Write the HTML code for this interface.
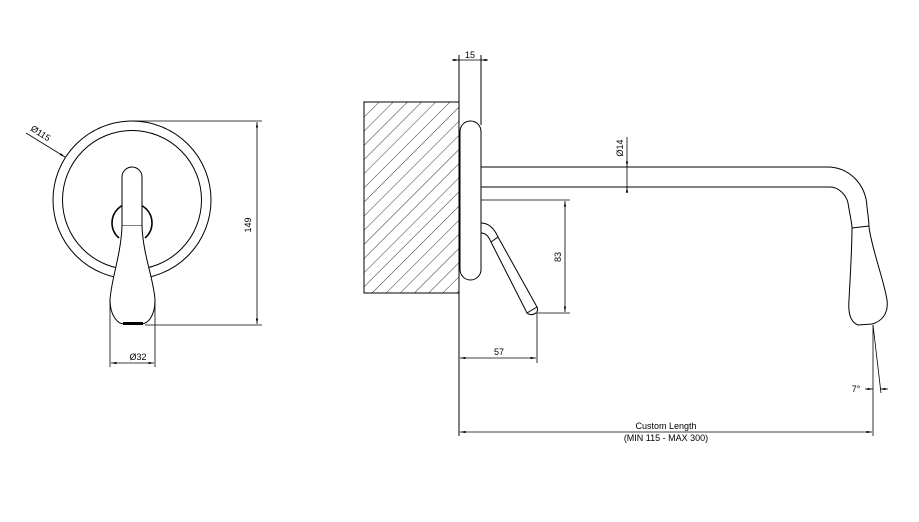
<!DOCTYPE html>
<html><head><meta charset="utf-8"><style>
html,body{margin:0;padding:0;background:#fff;}
svg{display:block}
text{font-family:"Liberation Sans",sans-serif;fill:#000}
</style></head><body>
<svg width="919" height="522" viewBox="0 0 919 522" xmlns="http://www.w3.org/2000/svg">
<defs>
<pattern id="h" patternUnits="userSpaceOnUse" width="10" height="10" patternTransform="rotate(45)">
<line x1="0" y1="0" x2="0" y2="10" stroke="#000" stroke-width="0.8"/>
</pattern>
<marker id="a" viewBox="0 0 10 10" refX="10" refY="5" markerWidth="7" markerHeight="7" orient="auto-start-reverse"><path d="M0,3 L10,5 L0,7 z" fill="#000"/></marker>
</defs>
<g fill="none" stroke="#000" stroke-width="1">
<circle cx="132" cy="200" r="79"/>
<circle cx="132" cy="200" r="69.5"/>
<path d="M112,223 A20,20 0 0 1 152,223 A20,20 0 0 1 145,238" fill="#fff" stroke-width="1.6"/>
<path d="M112,223 A20,20 0 0 0 119,238" stroke-width="1.6"/>
<path d="M122,226 L122,177 A10,10 0 0 1 142,177 L142,226" fill="#fff"/>
<line x1="122" y1="226" x2="142" y2="226"/>
<path d="M122,226 C121,255 111,280 110,300 C110,316 118,324 124,324 L141,324 C148,324 155,316 155,300 C154,280 143,255 142,226" fill="#fff"/>
<line x1="123" y1="323.5" x2="143" y2="323.5" stroke-width="3"/>
<line x1="132" y1="121" x2="262" y2="121" stroke-width="0.8"/>
<line x1="145" y1="325" x2="262" y2="325" stroke-width="0.8"/>
<line x1="257" y1="122" x2="257" y2="324" stroke-width="0.8" marker-start="url(#a)" marker-end="url(#a)"/>
<line x1="110" y1="300" x2="110" y2="367" stroke-width="0.8"/>
<line x1="155" y1="300" x2="155" y2="367" stroke-width="0.8"/>
<line x1="111" y1="363" x2="154" y2="363" stroke-width="0.8" marker-start="url(#a)" marker-end="url(#a)"/>
<line x1="26" y1="133" x2="65" y2="157" stroke-width="0.8" marker-end="url(#a)"/>

<rect x="364" y="102" width="95" height="191" fill="url(#h)"/>
<rect x="364" y="102" width="95" height="191"/>
<line x1="459" y1="55" x2="459" y2="436"/>
<line x1="481" y1="55" x2="481" y2="125"/>
<rect x="460" y="121" width="21" height="159" rx="10.5" fill="#fff"/>
<line x1="452" y1="60" x2="459" y2="60" stroke-width="0.8" marker-end="url(#a)"/>
<line x1="488" y1="60" x2="481" y2="60" stroke-width="0.8" marker-end="url(#a)"/>
<line x1="459" y1="60" x2="481" y2="60" stroke-width="0.8"/>
<path d="M481,167 L827,167 C850,167 866,185 867,207 C868,215 869,222 869,227 C872,250 884,280 887,300 C889,315 880,322 872,324 L858,325 C850,322 848,312 849,300 C850,280 852,250 852,227 C851,218 849,210 848,203 C846,194 838,187 830,187 L481,187"/>
<line x1="852" y1="228" x2="869" y2="226"/>
<path d="M481,223 C488,223 494,228 498,237 L537,307 C540,313 531,317 527,313 L491,242 C488,235 485,233 481,233"/>
<line x1="498" y1="237" x2="491" y2="242"/>
<line x1="537" y1="307" x2="527" y2="313"/>
<line x1="481" y1="200" x2="570" y2="200" stroke-width="0.8"/>
<line x1="537" y1="313" x2="570" y2="313" stroke-width="0.8"/>
<line x1="565" y1="201" x2="565" y2="312" stroke-width="0.8" marker-start="url(#a)" marker-end="url(#a)"/>
<line x1="537" y1="313" x2="537" y2="363" stroke-width="0.8"/>
<line x1="460" y1="358" x2="536" y2="358" stroke-width="0.8" marker-start="url(#a)" marker-end="url(#a)"/>
<line x1="627" y1="137" x2="627" y2="167" stroke-width="0.8" marker-end="url(#a)"/>
<line x1="627" y1="193" x2="627" y2="187" stroke-width="0.8" marker-end="url(#a)"/>
<line x1="627" y1="167" x2="627" y2="187" stroke-width="0.8"/>
<line x1="873" y1="325" x2="873" y2="436" stroke-width="0.8"/>
<line x1="873" y1="325" x2="881" y2="393" stroke-width="0.8"/>
<line x1="865" y1="389" x2="873" y2="389" stroke-width="0.8" marker-end="url(#a)"/>
<line x1="888" y1="389" x2="880" y2="389" stroke-width="0.8" marker-end="url(#a)"/>
<line x1="460" y1="432" x2="872" y2="432" stroke-width="0.8" marker-start="url(#a)" marker-end="url(#a)"/>
</g>
<g font-size="9">
<text x="30" y="130" transform="rotate(33 30 130)">Ø115</text>
<text x="251" y="225" text-anchor="middle" transform="rotate(-90 251 225)">149</text>
<text x="138" y="360" text-anchor="middle">Ø32</text>
<text x="470" y="58" text-anchor="middle">15</text>
<text x="623" y="148" text-anchor="middle" transform="rotate(-90 623 148)">Ø14</text>
<text x="561" y="257" text-anchor="middle" transform="rotate(-90 561 257)">83</text>
<text x="499" y="355" text-anchor="middle">57</text>
<text x="856" y="392" text-anchor="middle">7°</text>
<text x="666" y="429" text-anchor="middle">Custom Length</text>
<text x="666" y="441" text-anchor="middle">(MIN 115 - MAX 300)</text>
</g>
</svg>
</body></html>
